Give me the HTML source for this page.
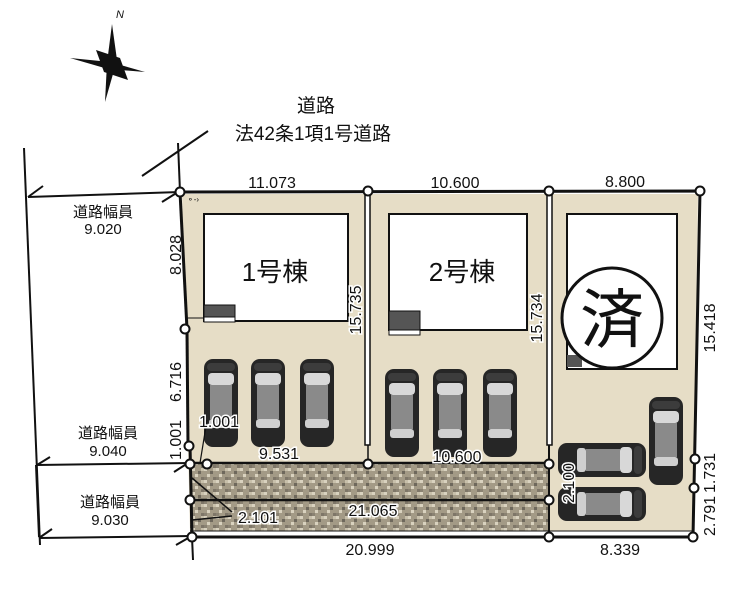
<!DOCTYPE html>
<html><head><meta charset="utf-8"><style>
html,body{margin:0;padding:0;background:#fff}
svg{display:block}
text{font-family:"Liberation Sans","Noto Sans CJK JP",sans-serif;fill:#111}
.w{stroke:#fff;stroke-width:3;paint-order:stroke}
</style></head><body>
<svg width="743" height="600" viewBox="0 0 743 600" xmlns="http://www.w3.org/2000/svg">
<defs>
<pattern id="chk" width="12" height="12" patternUnits="userSpaceOnUse">
<rect width="12" height="12" fill="#a39a86"/>
<rect x="0" y="0" width="3" height="3" fill="#d9d2bf"/>
<rect x="6" y="3" width="3" height="3" fill="#6e685c"/>
<rect x="3" y="6" width="3" height="3" fill="#d9d2bf"/>
<rect x="9" y="9" width="3" height="3" fill="#7e7668"/>
<rect x="9" y="0" width="3" height="3" fill="#c8c0ab"/>
<rect x="0" y="9" width="3" height="3" fill="#8a8272"/>
</pattern>
<g id="car">
<rect x="0" y="0" width="34" height="88" rx="9" fill="#262626"/>
<rect x="4" y="14" width="26" height="12" rx="4" fill="#d8d8d8"/>
<rect x="6" y="26" width="22" height="34" fill="#8a8a8a"/>
<rect x="5" y="60" width="24" height="9" rx="3" fill="#cfcfcf"/>
<rect x="3" y="4" width="28" height="8" rx="4" fill="#3c3c3c"/>
</g>
</defs>

<!-- north arrow -->
<text x="116" y="18" font-size="11" font-style="italic" font-family="Liberation Serif,serif">N</text>
<polygon points="112,24 117,60 105,102 107,63" fill="#111"/>
<polygon points="70,58 110,62 145,72 108,69" fill="#111"/>
<polygon points="96,50 120,58 128,80 104,72" fill="#111"/>

<!-- road labels -->
<text x="316" y="112" font-size="19" text-anchor="middle">道路</text>
<text x="313" y="140" font-size="19" text-anchor="middle">法42条1項1号道路</text>
<line x1="142" y1="176" x2="208" y2="131" stroke="#111" stroke-width="2"/>
<line x1="178" y1="143" x2="180" y2="192" stroke="#111" stroke-width="2"/>

<!-- left road lines -->
<line x1="24" y1="148" x2="40" y2="545" stroke="#111" stroke-width="2"/>
<line x1="28" y1="197" x2="180" y2="192" stroke="#111" stroke-width="2"/>
<line x1="28" y1="197" x2="43" y2="186" stroke="#111" stroke-width="2"/>
<line x1="37" y1="465" x2="190" y2="463" stroke="#111" stroke-width="2"/>
<line x1="37" y1="465" x2="50" y2="457" stroke="#111" stroke-width="2"/>
<line x1="36" y1="465" x2="39" y2="537" stroke="#111" stroke-width="2"/>
<line x1="39" y1="538" x2="192" y2="536" stroke="#111" stroke-width="2"/>
<line x1="39" y1="538" x2="52" y2="529" stroke="#111" stroke-width="2"/>
<line x1="162" y1="202" x2="178" y2="192" stroke="#111" stroke-width="2"/>
<line x1="174" y1="472" x2="188" y2="463" stroke="#111" stroke-width="2"/>
<line x1="176" y1="545" x2="190" y2="537" stroke="#111" stroke-width="2"/>
<line x1="192" y1="537" x2="193" y2="560" stroke="#111" stroke-width="2"/>
<text x="103" y="217" font-size="15" text-anchor="middle">道路幅員</text>
<text x="103" y="234" font-size="15" text-anchor="middle">9.020</text>
<text x="108" y="438" font-size="15" text-anchor="middle">道路幅員</text>
<text x="108" y="456" font-size="15" text-anchor="middle">9.040</text>
<text x="110" y="507" font-size="15" text-anchor="middle">道路幅員</text>
<text x="110" y="525" font-size="15" text-anchor="middle">9.030</text>

<!-- lots fill -->
<polygon points="182,194 698,194 693,531 190,531" fill="#e6ddc6"/>
<rect x="190" y="464" width="359" height="67" fill="url(#chk)"/>
<line x1="190" y1="500" x2="549" y2="500" stroke="#111" stroke-width="2.5"/>
<line x1="190" y1="463" x2="549" y2="463" stroke="#111" stroke-width="2.5"/>
<line x1="190" y1="531" x2="693" y2="531" stroke="#111" stroke-width="1"/>
<line x1="192" y1="478" x2="232" y2="512" stroke="#111" stroke-width="1.5"/>
<line x1="192" y1="520" x2="232" y2="516" stroke="#111" stroke-width="1.5"/>

<!-- buildings -->
<rect x="204" y="214" width="144" height="107" fill="#fff" stroke="#111" stroke-width="2"/>
<line x1="186" y1="318" x2="204" y2="318" stroke="#111" stroke-width="1"/>
<rect x="204" y="305" width="31" height="12" fill="#555" stroke="#111"/>
<rect x="204" y="317" width="31" height="5" fill="#fff" stroke="#111"/>
<text x="275" y="281" font-size="26" text-anchor="middle">1号棟</text>
<rect x="389" y="214" width="138" height="116" fill="#fff" stroke="#111" stroke-width="2"/>
<rect x="389" y="311" width="31" height="19" fill="#555" stroke="#111"/>
<rect x="389" y="330" width="31" height="5" fill="#fff" stroke="#111"/>
<text x="462" y="281" font-size="26" text-anchor="middle">2号棟</text>
<rect x="567" y="214" width="110" height="155" fill="#fff" stroke="#111" stroke-width="2"/>
<rect x="567" y="355" width="15" height="12" fill="#555"/>
<circle cx="612" cy="318" r="50" fill="#fff" stroke="#111" stroke-width="3"/>
<text x="612" y="342" font-size="64" text-anchor="middle">済</text>

<!-- cars -->
<use href="#car" x="204" y="359"/>
<use href="#car" x="251" y="359"/>
<use href="#car" x="300" y="359"/>
<use href="#car" x="385" y="369"/>
<use href="#car" x="433" y="369"/>
<use href="#car" x="483" y="369"/>
<use href="#car" x="649" y="397"/>
<use href="#car" transform="translate(646,443) rotate(90)"/>
<use href="#car" transform="translate(646,487) rotate(90)"/>

<!-- dividers -->
<rect x="365" y="193" width="5" height="252" fill="#fff" stroke="#111" stroke-width="1.5"/>
<rect x="547" y="193" width="5" height="252" fill="#fff" stroke="#111" stroke-width="1.5"/>
<line x1="368" y1="445" x2="368" y2="463" stroke="#111" stroke-width="1.5"/>
<line x1="549" y1="445" x2="549" y2="537" stroke="#111" stroke-width="2"/>

<!-- boundary -->
<polyline points="180,192 700,191 693,537 192,537" fill="none" stroke="#111" stroke-width="3"/>
<line x1="180" y1="192" x2="187" y2="329" stroke="#111" stroke-width="3"/>
<line x1="187" y1="329" x2="188" y2="445" stroke="#111" stroke-width="3"/>
<line x1="190" y1="445" x2="192" y2="537" stroke="#111" stroke-width="3"/>
<line x1="200" y1="463" x2="207" y2="420" stroke="#111" stroke-width="1.2"/>
<text x="187" y="202" font-size="8">⚬-›</text>

<!-- nodes -->
<g fill="#fff" stroke="#111" stroke-width="2">
<circle cx="180" cy="192" r="4.5"/><circle cx="368" cy="191" r="4.5"/><circle cx="549" cy="191" r="4.5"/><circle cx="700" cy="191" r="4.5"/>
<circle cx="185" cy="329" r="4.5"/><circle cx="189" cy="446" r="4.5"/><circle cx="190" cy="464" r="4.5"/><circle cx="207" cy="464" r="4.5"/>
<circle cx="368" cy="464" r="4.5"/><circle cx="549" cy="464" r="4.5"/><circle cx="190" cy="500" r="4.5"/><circle cx="549" cy="500" r="4.5"/>
<circle cx="192" cy="537" r="4.5"/><circle cx="549" cy="537" r="4.5"/><circle cx="693" cy="537" r="4.5"/>
<circle cx="695" cy="459" r="4.5"/><circle cx="694" cy="488" r="4.5"/>
</g>

<!-- dimensions -->
<g font-size="16">
<text x="272" y="188" text-anchor="middle">11.073</text>
<text x="455" y="188" text-anchor="middle">10.600</text>
<text x="625" y="187" text-anchor="middle">8.800</text>
<text class="w" x="279" y="459" text-anchor="middle">9.531</text>
<text class="w" x="457" y="462" text-anchor="middle">10.600</text>
<text class="w" x="258" y="523" text-anchor="middle">2.101</text>
<text class="w" x="373" y="516" text-anchor="middle">21.065</text>
<text x="370" y="555" text-anchor="middle">20.999</text>
<text x="620" y="555" text-anchor="middle">8.339</text>
<text class="w" x="219" y="427" text-anchor="middle">1.001</text>
<text transform="translate(181,255) rotate(-90)" text-anchor="middle">8.028</text>
<text transform="translate(181,382) rotate(-90)" text-anchor="middle">6.716</text>
<text transform="translate(181,440) rotate(-90)" text-anchor="middle">1.001</text>
<text class="w" transform="translate(361,310) rotate(-90)" text-anchor="middle">15.735</text>
<text class="w" transform="translate(542,318) rotate(-90)" text-anchor="middle">15.734</text>
<text transform="translate(715,328) rotate(-90)" text-anchor="middle">15.418</text>
<text transform="translate(715,473) rotate(-90)" text-anchor="middle">1.731</text>
<text transform="translate(715,516) rotate(-90)" text-anchor="middle">2.791</text>
<text class="w" transform="translate(574,483) rotate(-90)" text-anchor="middle">2.100</text>
</g>
</svg>
</body></html>
